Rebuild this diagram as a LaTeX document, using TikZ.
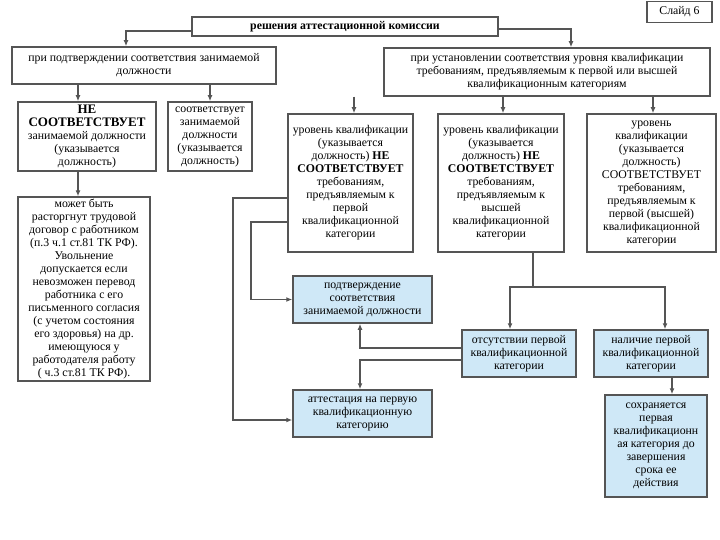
\documentclass[tikz,border=0pt]{standalone}
\usepackage{fontspec}
\setmainfont{Liberation Serif}
\usetikzlibrary{arrows.meta,calc}
\definecolor{edgegray}{HTML}{555555}
\definecolor{paleblue}{HTML}{CFE8F7}

\begin{document}
\begin{tikzpicture}[x=1pt,y=-1pt,>={Latex[length=6pt,width=5pt]},
        box/.style={draw=edgegray,line width=1.5pt,fill=white,align=center,
                inner sep=2pt,font=\fontsize{11.8}{13}\selectfont},
        bluebox/.style={box,fill=paleblue},
        sz/.style 2 args={minimum width=#1,minimum height=#2},
        link/.style={draw=edgegray,line width=1.6pt}]
        \useasboundingbox (0,0) rectangle (720,540);

        \node[box,sz={65pt}{21pt}]      at (679.5,12)   (slide) {Слайд 6};
        \node[box,sz={306pt}{19pt}]     at (345,26.5)   (top)   {\textbf{решения аттестационной комиссии}};

        \node[box,sz={264pt}{37pt}]     at (144,65.5)   (conf)  {при подтверждении соответствия занимаемой\\должности};
        \node[box,sz={326pt}{48pt}]     at (547,72)     (estab) {при установлении соответствия уровня квалификации\\требованиям, предъявляемым к первой или высшей\\квалификационным категориям};

        \node[box,sz={138pt}{69pt}]     at (87,136.5)   (ne)    {{\fontsize{13}{13}\selectfont\textbf{НЕ}}\\{\fontsize{13}{13}\selectfont\textbf{СООТВЕТСТВУЕТ}}\\занимаемой должности\\(указывается\\должность)};
        \node[box,sz={84pt}{69pt}]      at (210,136.5)  (ok)    {соответствует\\занимаемой\\должности\\(указывается\\должность)};
        \node[box,sz={132pt}{182pt}]    at (84,289)     (fire)  {может быть\\расторгнут трудовой\\договор с работником\\(п.3 ч.1 ст.81 ТК РФ).\\Увольнение\\допускается если\\невозможен перевод\\работника с его\\письменного согласия\\(с учетом состояния\\его здоровья) на др.\\имеющуюся у\\работодателя работу\\( ч.3 ст.81 ТК РФ).};

        \node[box,sz={125pt}{138pt}]    at (350.5,183)  (lvl_1) {уровень квалификации\\(указывается\\должность) \textbf{НЕ}\\\textbf{СООТВЕТСТВУЕТ}\\требованиям,\\предъявляемым к\\первой\\квалификационной\\категории};
        \node[box,sz={126pt}{138pt}]    at (501,183)    (lvl_2) {уровень квалификации\\(указывается\\должность) \textbf{НЕ}\\\textbf{СООТВЕТСТВУЕТ}\\требованиям,\\предъявляемым к\\высшей\\квалификационной\\категории};
        \node[box,sz={129pt}{138pt}]    at (651.5,183)  (lvl_3) {уровень\\квалификации\\(указывается\\должность)\\СООТВЕТСТВУЕТ\\требованиям,\\предъявляемым к\\первой (высшей)\\квалификационной\\категории};

        \node[bluebox,sz={139pt}{47pt}] at (362.5,299.5) (confirm) {подтверждение\\соответствия\\занимаемой должности};
        \node[bluebox,sz={139pt}{47pt}] at (362.5,413.5) (attest)  {аттестация на первую\\квалификационную\\категорию};
        \node[bluebox,sz={114pt}{47pt}] at (519,353.5)  (no_cat)  {отсутствии первой\\квалификационной\\категории};
        \node[bluebox,sz={114pt}{47pt}] at (651,353.5)  (has_cat) {наличие первой\\квалификационной\\категории};
        \node[bluebox,sz={102pt}{102pt}] at (656,446)   (keep)    {сохраняется\\первая\\квалификационн\\ая категория до\\завершения\\срока ее\\действия};

        \coordinate (split) at (533,287);

        % from the decision box
        \draw[link,->] ([yshift=-4.5pt]top.west) -| ([xshift=-18pt]conf.north);
        \draw[link,->] ([yshift=-2.5pt]top.east) -| ([xshift=24pt]estab.north);

        % left branch
        \draw[link,->] ([xshift=-9pt]ne.north |- conf.south) -- ([xshift=-9pt]ne.north);
        \draw[link,->] (ok.north |- conf.south) -- (ok.north);
        \draw[link,->] ([xshift=-9pt]ne.south) -- ([xshift=-9pt]ne.south |- fire.north);

        % right branch
        \foreach \n/\dx in {lvl_1/3.5,lvl_2/2,lvl_3/1.5}
                \draw[link,->] ([xshift=\dx pt]\n.north |- estab.south) -- ([xshift=\dx pt]\n.north);

        \draw[link,->] ([yshift=-15pt]lvl_1.west) -- ++(-54,0) |- ([yshift=-6.5pt]attest.west);
        \draw[link,->] ([yshift=-39pt]lvl_1.west) -- ++(-36,0) |- (confirm.west);

        \draw[link] (split |- lvl_2.south) -- (split);
        \draw[link,->] (split) -| ([xshift=-9pt]no_cat.north);
        \draw[link,->] (split) -| ([xshift=14pt]has_cat.north);

        \draw[link,->] ([yshift=5.5pt]no_cat.west) -| ([xshift=-2.5pt]confirm.south);
        \draw[link,->] ([yshift=-6.5pt]no_cat.west) -| ([xshift=-2.5pt]attest.north);

        \draw[link,->] ([xshift=21pt]has_cat.south) -- ([xshift=21pt]has_cat.south |- keep.north);
\end{tikzpicture}
\end{document}
